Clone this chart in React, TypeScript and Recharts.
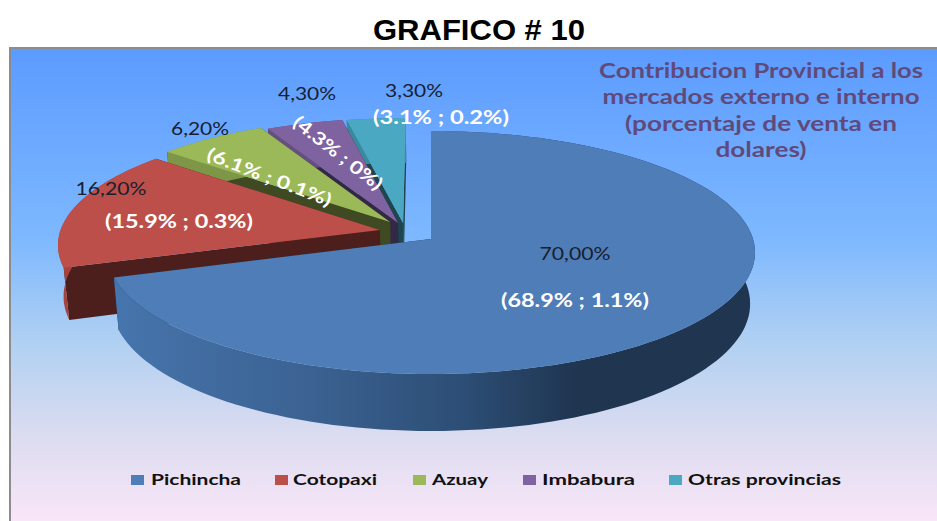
import { PieChart, Pie, Legend } from "recharts";

const categories = ["Pichincha", "Cotopaxi", "Azuay", "Imbabura", "Otras provincias"];
const totals = [70.0, 16.2, 6.2, 4.3, 3.3];
const externo = ["68.9", "15.9", "6.1", "4.3", "3.1"];
const interno = ["1.1", "0.3", "0.1", "0", "0.2"];
const topColors = ["#4e7db8", "#bd4f4b", "#9bb958", "#7f63a0", "#4aa8c2"];
const sideColors = ["url(#blueWall)", "#a8423f", "#7d9647", "#654f80", "#3a8a9e"];
const cutColors = ["#1f3550", "#4c1f1c", "#3f4a22", "#332845", "#1e4550"];

const subtitle = [
  "Contribucion Provincial a los",
  "mercados externo e interno",
  "(porcentaje de venta en",
  "dolares)",
];

// layout only, slice order same as categories
const explode = [
  [0, 0],
  [-0.16, 0.075],
  [-0.129, 0.143],
  [-0.104, 0.135],
  [-0.088, 0.135],
];
const totalLabelPos = [
  [575, 260, 71],
  [111, 195, 71],
  [200, 135, 58],
  [307, 100, 58],
  [414, 97, 58],
];
const detailLabelPos = [
  [575, 307, 148, 0],
  [179, 228, 148, 0],
  [267, 183, 132, 21],
  [334, 158, 108, 38],
  [441, 124, 136, 0],
];
const subtitleWidths = [324, 317, 272, 91];
const legendX = [131, 275, 413, 523, 669];
const legendTextX = [151, 293, 432, 542, 688];
const legendWidths = [90, 84, 56, 93, 153];

const persp = 0.111;
const flatten = 120;
const depth = 50.7;
const bottomScale = 0.985;

// the pie is walked counter-clockwise from the top so the big slice paints last
const data = categories
  .map((name, i) => ({ name, value: totals[i], fill: topColors[i], idx: i }))
  .reverse();

function project(cx: number, cy: number, r: number, u: number, v: number, low = false) {
  const d = 1 + persp * v;
  const x = (r * u) / d;
  const y = (flatten * v) / d;
  if (!low) return [cx + x, cy - y];
  return [cx + x * bottomScale, cy - y + depth / d];
}

function toPath(pts: number[][]) {
  return "M" + pts.map((p) => p[0].toFixed(1) + " " + p[1].toFixed(1)).join("L") + "Z";
}

function Slice3D(props: any) {
  const { cx, cy, outerRadius, startAngle, endAngle, payload } = props;
  const idx = payload.idx;
  const [du, dv] = explode[idx];
  const steps = Math.max(6, Math.ceil(Math.abs(endAngle - startAngle) / 2));
  const rim: number[][] = [];
  for (let k = 0; k <= steps; k++) {
    const a = ((startAngle + ((endAngle - startAngle) * k) / steps) * Math.PI) / 180;
    rim.push([du + Math.cos(a), dv + Math.sin(a)]);
  }
  const top = rim.map((p) => project(cx, cy, outerRadius, p[0], p[1]));
  const low = rim.map((p) => project(cx, cy, outerRadius, p[0], p[1], true));
  const apexTop = project(cx, cy, outerRadius, du, dv);
  const apexLow = project(cx, cy, outerRadius, du, dv, true);
  const n = rim.length - 1;
  return (
    <g>
      <path d={toPath([apexTop, top[0], low[0], apexLow])} fill={cutColors[idx]} />
      <path d={toPath([apexTop, top[n], low[n], apexLow])} fill={cutColors[idx]} />
      <path d={toPath([...top, ...[...low].reverse()])} fill={sideColors[idx]} />
      <path d={toPath([apexTop, ...top])} fill={topColors[idx]} />
    </g>
  );
}

function SliceLabel(props: any) {
  const idx = props.payload.idx;
  const [tx, ty, tw] = totalLabelPos[idx];
  const [dx, dy, dw, rot] = detailLabelPos[idx];
  const total = totals[idx].toFixed(2).replace(".", ",") + "%";
  const detail = `(${externo[idx]}% ; ${interno[idx]}%)`;
  return (
    <g fontFamily="Lato" textAnchor="middle">
      <text x={tx} y={ty} fontSize={17} fill="#17202e" textLength={tw} lengthAdjust="spacingAndGlyphs">
        {total}
      </text>
      <text
        x={dx}
        y={dy}
        fontSize={18}
        fontWeight={700}
        fill="#ffffff"
        textLength={dw}
        lengthAdjust="spacingAndGlyphs"
        transform={rot ? `rotate(${rot} ${dx} ${dy})` : undefined}
      >
        {detail}
      </text>
    </g>
  );
}

function LegendRow({ payload }: any) {
  const items = [...(payload || [])].sort(
    (a: any, b: any) => categories.indexOf(a.value) - categories.indexOf(b.value),
  );
  return (
    <svg width={937} height={30} style={{ display: "block" }}>
      {items.map((it: any, i: number) => (
        <g key={it.value}>
          <rect x={legendX[i]} y={6} width={13} height={10} fill={it.color} />
          <text
            x={legendTextX[i]}
            y={16}
            fontFamily="Lato"
            fontWeight={700}
            fontSize={16}
            fill="#111111"
            textLength={legendWidths[i]}
            lengthAdjust="spacingAndGlyphs"
          >
            {it.value}
          </text>
        </g>
      ))}
    </svg>
  );
}

export default function App() {
  return (
    <div style={{ position: "absolute", left: 0, top: 0, width: 937, height: 521, background: "#fff" }}>
      <PieChart width={937} height={521} margin={{ top: 0, right: 0, bottom: 0, left: 0 }}>
        <defs>
          <linearGradient id="panelBg" gradientUnits="userSpaceOnUse" x1="0" y1="48" x2="0" y2="521">
            <stop offset="0%" stopColor="#5c9bff" />
            <stop offset="40%" stopColor="#7db8ff" />
            <stop offset="62%" stopColor="#b0d0f2" />
            <stop offset="82%" stopColor="#dcdcf0" />
            <stop offset="100%" stopColor="#f9e6f8" />
          </linearGradient>
          <linearGradient id="blueWall" gradientUnits="userSpaceOnUse" x1="119" y1="0" x2="755" y2="0">
            <stop offset="0%" stopColor="#4674ac" />
            <stop offset="30%" stopColor="#3b6292" />
            <stop offset="55%" stopColor="#2c4d74" />
            <stop offset="72%" stopColor="#1f3550" />
            <stop offset="100%" stopColor="#1f3550" />
          </linearGradient>
        </defs>
        <rect x={10} y={48} width={930} height={476} fill="url(#panelBg)" stroke="#8c8c8c" strokeWidth={2} />
        <text
          x={479}
          y={40}
          textAnchor="middle"
          fontFamily="Liberation Sans"
          fontWeight={700}
          fontSize={30}
          fill="#000"
          textLength={212}
          lengthAdjust="spacingAndGlyphs"
        >
          GRAFICO # 10
        </text>
        {subtitle.map((line, i) => (
          <text
            key={line}
            x={761}
            y={78 + i * 26.4}
            textAnchor="middle"
            fontFamily="Lato"
            fontWeight={700}
            fontSize={21}
            fill="#604a7b"
            textLength={subtitleWidths[i]}
            lengthAdjust="spacingAndGlyphs"
          >
            {line}
          </text>
        ))}
        <Pie
          data={data}
          dataKey="value"
          nameKey="name"
          cx={431}
          cy={239}
          outerRadius={322}
          startAngle={90}
          endAngle={450}
          stroke="none"
          isAnimationActive={false}
          shape={Slice3D}
          labelLine={false}
          label={SliceLabel}
        />
        <Legend
          content={LegendRow}
          wrapperStyle={{ position: "absolute", left: 0, top: 469, width: 937, height: 30 }}
        />
      </PieChart>
    </div>
  );
}
